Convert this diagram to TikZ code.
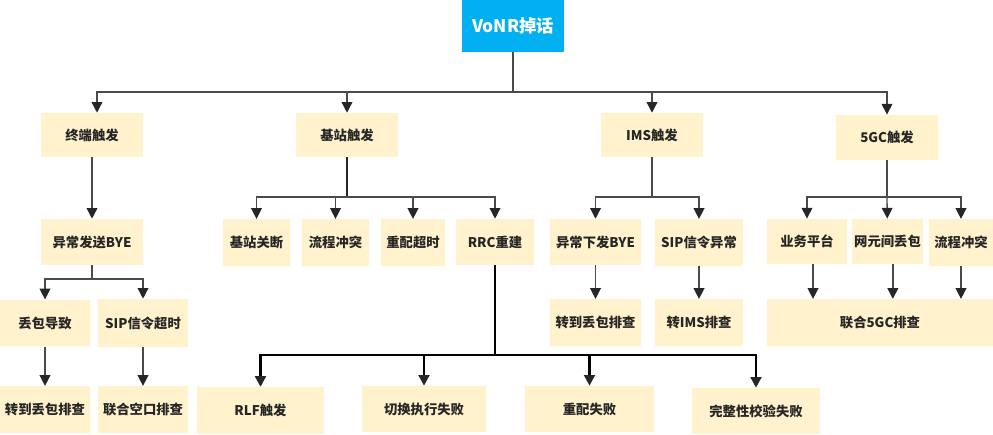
\documentclass[tikz,border=0pt]{standalone}
\usepackage{fontspec}
\setmainfont{Noto Sans CJK SC}
\usepackage{tikz}
\usetikzlibrary{arrows.meta}
\definecolor{cream}{HTML}{FFF2CC}
\definecolor{sky}{HTML}{00B0F0}
\definecolor{ink}{HTML}{262626}
\definecolor{wire}{HTML}{4A4A4A}
\tikzset{
    box/.style={rectangle, fill=cream, draw=none, inner sep=0pt,
    	text=ink, font=\fontsize{10}{12}\selectfont\bfseries}
}
\tikzset{
    link/.style={draw=wire, line width=1pt},
    thick link/.style={draw=black, line width=2pt},
    arr/.style={-{Triangle[width=8pt,length=8pt,color=ink]}}
}

\begin{document}
\begin{tikzpicture}[x=0.75pt,y=-0.75pt]
  \useasboundingbox (0,0) rectangle (993,435);

  \node (root) [rectangle, fill=sky, text=white, minimum width=102*0.75pt,
    minimum height=52*0.75pt, font=\fontsize{13}{15}\selectfont\bfseries]
    at (513,26) {VoNR掉话};

  \node (t) [box, minimum width=76.5pt, minimum height=33pt] at (92,135) {终端触发};
  \node (b) [box, minimum width=76.5pt, minimum height=33pt] at (347,135) {基站触发};
  \node (m) [box, minimum width=76.5pt, minimum height=33pt] at (652,135) {IMS触发};
  \node (g) [box, minimum width=76.5pt, minimum height=34pt] at (887,137.5) {5GC触发};

  \node (t1) [box, minimum width=76.5pt, minimum height=34.5pt] at (92,242) {异常发送BYE};
  \node (t2) [box, minimum width=67.5pt, minimum height=35pt] at (45,323) {丢包导致};
  \node (t3) [box, minimum width=67.5pt, minimum height=36pt] at (143,323) {SIP信令超时};
  \node (t4) [box, minimum width=67.5pt, minimum height=35pt] at (45,409.5) {转到丢包排查};
  \node (t5) [box, minimum width=67.5pt, minimum height=35pt] at (143,409.5) {联合空口排查};

  \node (b1) [box, minimum width=50pt, minimum height=35pt] at (256.5,242.5) {基站关断};
  \node (b2) [box, minimum width=50pt, minimum height=35pt] at (335.5,242.5) {流程冲突};
  \node (b3) [box, minimum width=48pt, minimum height=35pt] at (413,242.5) {重配超时};
  \node (b4) [box, minimum width=58pt, minimum height=34.5pt] at (495,242) {RRC重建};

  \node (r1) [box, minimum width=95pt, minimum height=35pt] at (260.5,410.5) {RLF触发};
  \node (r2) [box, minimum width=93pt, minimum height=34.5pt] at (424,409) {切换执行失败};
  \node (r3) [box, minimum width=97pt, minimum height=34.5pt] at (589.5,409) {重配失败};
  \node (r4) [box, minimum width=96pt, minimum height=34.5pt] at (756,411) {完整性校验失败};

  \node (m1) [box, minimum width=68pt, minimum height=34.5pt] at (595.5,242) {异常下发BYE};
  \node (m2) [box, minimum width=66pt, minimum height=35pt] at (699,242.5) {SIP信令异常};
  \node (m3) [box, minimum width=68pt, minimum height=35pt] at (595.5,322.5) {转到丢包排查};
  \node (m4) [box, minimum width=66pt, minimum height=35pt] at (699,322.5) {转IMS排查};

  \node (g1) [box, minimum width=60pt, minimum height=34pt] at (807,241.5) {业务平台};
  \node (g2) [box, minimum width=53pt, minimum height=34pt] at (887.5,241.5) {网元间丢包};
  \node (g3) [box, minimum width=48pt, minimum height=35pt] at (961,242.5) {流程冲突};
  \node (g4) [box, minimum width=169.5pt, minimum height=35pt] at (880,322.5) {联合5GC排查};

  % branch points
  \coordinate (j0) at (513,92);
  \coordinate (j1) at (92,279);
  \coordinate (j2) at (347,197);
  \coordinate (j3) at (495,355);
  \coordinate (j4) at (652,197);
  \coordinate (j5) at (887,197);

  \draw [link] (root) -- (j0);
  \draw [link, arr] (j0) -| ([xshift=3.75pt]t.north);
  \draw [link, arr] (j0) -| (b);
  \draw [link, arr] (j0) -| (m);
  \draw [link, arr] (j0) -| (g);

  \draw [link, arr] (t) -- (t1);
  \draw [link] (t1) -- (j1);
  \draw [link, arr] (j1) -| (t2);
  \draw [link, arr] (j1) -| (t3);
  \draw [link, arr] (t2) -- (t4);
  \draw [link, arr] (t3) -- (t5);

  \draw [link, draw=ink, line width=1.4pt] (b) -- (j2);
  \draw [link, arr] (j2) -| (b1);
  \draw [link, arr] (j2) -| (b2);
  \draw [link, arr] (j2) -| (b3);
  \draw [link, arr] (j2) -| (b4);

  \draw [thick link] (b4) -- (j3);
  \draw [thick link, arr] (j3) -| (r1);
  \draw [thick link, arr] (j3) -| (r2);
  \draw [thick link, arr] (j3) -| (r3);
  \draw [thick link, arr] (j3) -| (r4);

  \draw [link] (m) -- (j4);
  \draw [link, arr] (j4) -| (m1);
  \draw [link, arr] (j4) -| (m2);
  \draw [link, arr] (m1) -- (m3);
  \draw [link, arr] (m2) -- (m4);

  \draw [link] (g) -- (j5);
  \draw [link, arr] (j5) -| (g1);
  \draw [link, arr] (j5) -- (g2);
  \draw [link, arr] (j5) -| (g3);
  \draw [link, arr] ([xshift=4.5pt]g1.south) -- ([xshift=4.5pt]g1.south |- g4.north);
  \draw [link, arr] ([xshift=4pt]g2.south) -- ([xshift=4pt]g2.south |- g4.north);
  \draw [link, arr] (g3) -- (g3 |- g4.north);
\end{tikzpicture}
\end{document}
